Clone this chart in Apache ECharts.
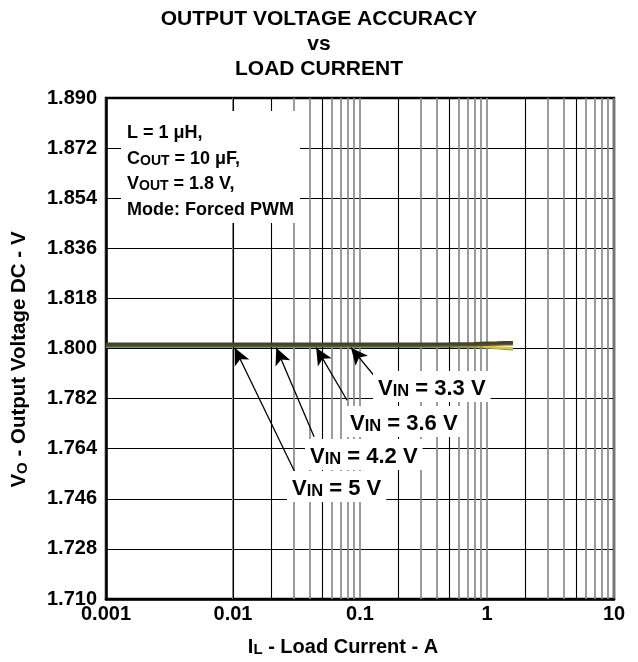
<!DOCTYPE html>
<html>
<head>
<meta charset="utf-8">
<script src="https://cdn.jsdelivr.net/npm/echarts@6/dist/echarts.min.js"></script>
<style>
html,body{margin:0;padding:0;background:#fff;}
#c{width:638px;height:662px;}
</style>
</head>
<body>
<div id="c"></div>
<script>
// ---- data ----
var loadCurrent = [0.001, 0.002, 0.003, 0.005, 0.01, 0.02, 0.03, 0.05, 0.1, 0.2, 0.3, 0.5, 0.8, 1.0, 1.2, 1.4, 1.6];
var vin33 = [1.8006, 1.8006, 1.8006, 1.8006, 1.8006, 1.8006, 1.8006, 1.8006, 1.8006, 1.8006, 1.8006, 1.8006, 1.8005, 1.8003, 1.8001, 1.7999, 1.7997];
var vin36 = [1.8009, 1.8009, 1.8009, 1.8009, 1.8009, 1.8009, 1.8009, 1.8009, 1.8009, 1.8009, 1.8009, 1.8009, 1.8008, 1.8006, 1.8004, 1.8002, 1.8000];
var vin42 = [1.8011, 1.8011, 1.8011, 1.8011, 1.8011, 1.8011, 1.8011, 1.8011, 1.8011, 1.8011, 1.8011, 1.8012, 1.8013, 1.8014, 1.8015, 1.8016, 1.8016];
var vin50 = [1.8016, 1.8016, 1.8016, 1.8016, 1.8016, 1.8016, 1.8016, 1.8016, 1.8016, 1.8016, 1.8016, 1.8017, 1.8018, 1.8020, 1.8021, 1.8022, 1.8022];
var seriesNames = ['VIN = 3.3 V', 'VIN = 3.6 V', 'VIN = 4.2 V', 'VIN = 5 V'];
var xTickLabels = ['0.001', '0.01', '0.1', '1', '10'];
var yMin = 1.710, yMax = 1.890, yStep = 0.018;
// minor log grid positions (black at 2 and 5, grey elsewhere)
var minorBlack = [0.002, 0.005, 0.02, 0.05, 0.2, 0.5, 2, 5];
var minorGrey = [0.003, 0.004, 0.006, 0.007, 0.008, 0.009,
                 0.03, 0.04, 0.06, 0.07, 0.08, 0.09,
                 0.3, 0.4, 0.6, 0.7, 0.8, 0.9,
                 3, 4, 6, 7, 8, 9];
// annotation arrows: [tip current, tip voltage, tail current, tail voltage]
var arrowPts = [
  [0.0849, 1.8003, 0.1288, 1.7903],
  [0.0452, 1.8003, 0.0791, 1.7814],
  [0.0219, 1.8003, 0.0435, 1.7683],
  [0.0103, 1.8003, 0.0304, 1.7560]
];

function pairs(xs, ys){ return xs.map(function(x,i){ return [x, ys[i]]; }); }

var FONT = '"Liberation Sans", Arial, sans-serif';
var chart = echarts.init(document.getElementById('c'), null, {renderer:'canvas'});

var minorLines = [];
minorGrey.forEach(function(v){ minorLines.push({xAxis: v, lineStyle:{color:'#8a8a8a', width:1.7, type:'solid'}}); });
minorBlack.forEach(function(v){ minorLines.push({xAxis: v, lineStyle:{color:'#000', width:1.1, type:'solid'}}); });

var arrowLines = arrowPts.map(function(a){
  return [{coord:[a[0], a[1]]}, {coord:[a[2], a[3]]}];
});

var lineColors = ['#2aa08c', '#f2c01a', '#5e5834', '#45412a'];
var lineWidths = [2.2, 2.5, 3, 3];
var vinData = [vin33, vin36, vin42, vin50];

var series = [{
  type:'line', name:'grid', data:[[0.001, 1.5]], showSymbol:false, silent:true, z:1,
  lineStyle:{opacity:0},
  markLine:{silent:true, symbol:'none', label:{show:false}, animation:false, data:minorLines}
}];
vinData.forEach(function(d, i){
  series.push({
    type:'line', name:seriesNames[i], data:pairs(loadCurrent, d),
    showSymbol:false, smooth:false, z:3+i,
    lineStyle:{color:lineColors[i], width:lineWidths[i]},
    itemStyle:{color:lineColors[i]}
  });
});
series.push({
  type:'line', name:'arrows', data:[], z:10, silent:true,
  markLine:{silent:true, symbol:['arrow','none'], symbolSize:[12,17], animation:false,
    label:{show:false},
    lineStyle:{color:'#000', width:1.3, type:'solid'},
    itemStyle:{color:'#000'},
    data:arrowLines}
});

function richStyle(main, sub, lh, slh, key){
  var a = {fontFamily:FONT, fontWeight:'bold', fontSize:main, lineHeight:lh, verticalAlign:'bottom'};
  var s = {fontFamily:FONT, fontWeight:'bold', fontSize:sub, lineHeight:slh, verticalAlign:'bottom'};
  a[key] = '#000'; s[key] = '#000';
  return {a:a, s:s};
}

function vinLabel(txt, left, top){
  return {
    type:'text', left:left, top:top, z:100,
    style:{
      text:'{a|V}{s|IN}{a| = ' + txt + '}',
      backgroundColor:'#fff', padding:[3,5,2,5],
      rich:richStyle(22, 16.5, 26, 17, 'fill')
    }
  };
}

var option = {
  animation:false,
  backgroundColor:'#fff',
  title:{
    text:'OUTPUT VOLTAGE ACCURACY\nvs\nLOAD CURRENT',
    left:'center', top:2,
    textStyle:{fontFamily:FONT, fontWeight:'bold', fontSize:21, lineHeight:25, color:'#000'}
  },
  grid:{left:106, right:24, top:98, bottom:55, show:true, borderColor:'#000', borderWidth:2.5, backgroundColor:'transparent'},
  xAxis:{
    type:'log', logBase:10, min:0.001, max:10,
    name:'{a|I}{s|L}{a| - Load Current - A}', nameLocation:'middle', nameGap:34,
    nameTextStyle:{padding:[0,34,0,0], rich:richStyle(20, 15, 24, 14, 'color')},
    axisLine:{lineStyle:{color:'#000', width:2.5}},
    axisTick:{show:false},
    axisLabel:{margin:5, fontFamily:FONT, fontWeight:'bold', fontSize:20, color:'#000',
      formatter:function(v, i){ return xTickLabels[i] !== undefined ? xTickLabels[i] : ''; }},
    splitLine:{show:true, lineStyle:{color:'#8a8a8a', width:1.7}},
    minorTick:{show:false}, minorSplitLine:{show:false}
  },
  yAxis:{
    type:'value', min:yMin, max:yMax, interval:yStep,
    name:'{a|V}{s|O}{a| - Output Voltage DC - V}', nameLocation:'middle', nameGap:76, nameRotate:90,
    nameTextStyle:{padding:[0,22,0,0], rich:richStyle(20.5, 15, 24, 14, 'color')},
    axisLine:{show:true, lineStyle:{color:'#000', width:2.5}},
    axisTick:{show:false},
    axisLabel:{margin:9, fontFamily:FONT, fontWeight:'bold', fontSize:20, color:'#000',
      formatter:function(v){ return v.toFixed(3); }},
    splitLine:{show:true, lineStyle:{color:'#000', width:1}}
  },
  graphic:[
    {
      type:'text', left:121, top:111, z:100,
      style:{
        text:'{a|L = 1 μH,}\n{a|C}{s|OUT}{a| = 10 μF,}\n{a|V}{s|OUT}{a| = 1.8 V,}\n{a|Mode: Forced PWM}',
        backgroundColor:'#fff', padding:[6,6,4,6],
        rich:richStyle(18, 14, 25.5, 18, 'fill')
      }
    },
    vinLabel('3.3 V', 373, 371),
    vinLabel('3.6 V', 345, 406),
    vinLabel('4.2 V', 305, 439),
    vinLabel('5 V', 287, 471)
  ],
  series:series
};
chart.setOption(option);
</script>
</body>
</html>
